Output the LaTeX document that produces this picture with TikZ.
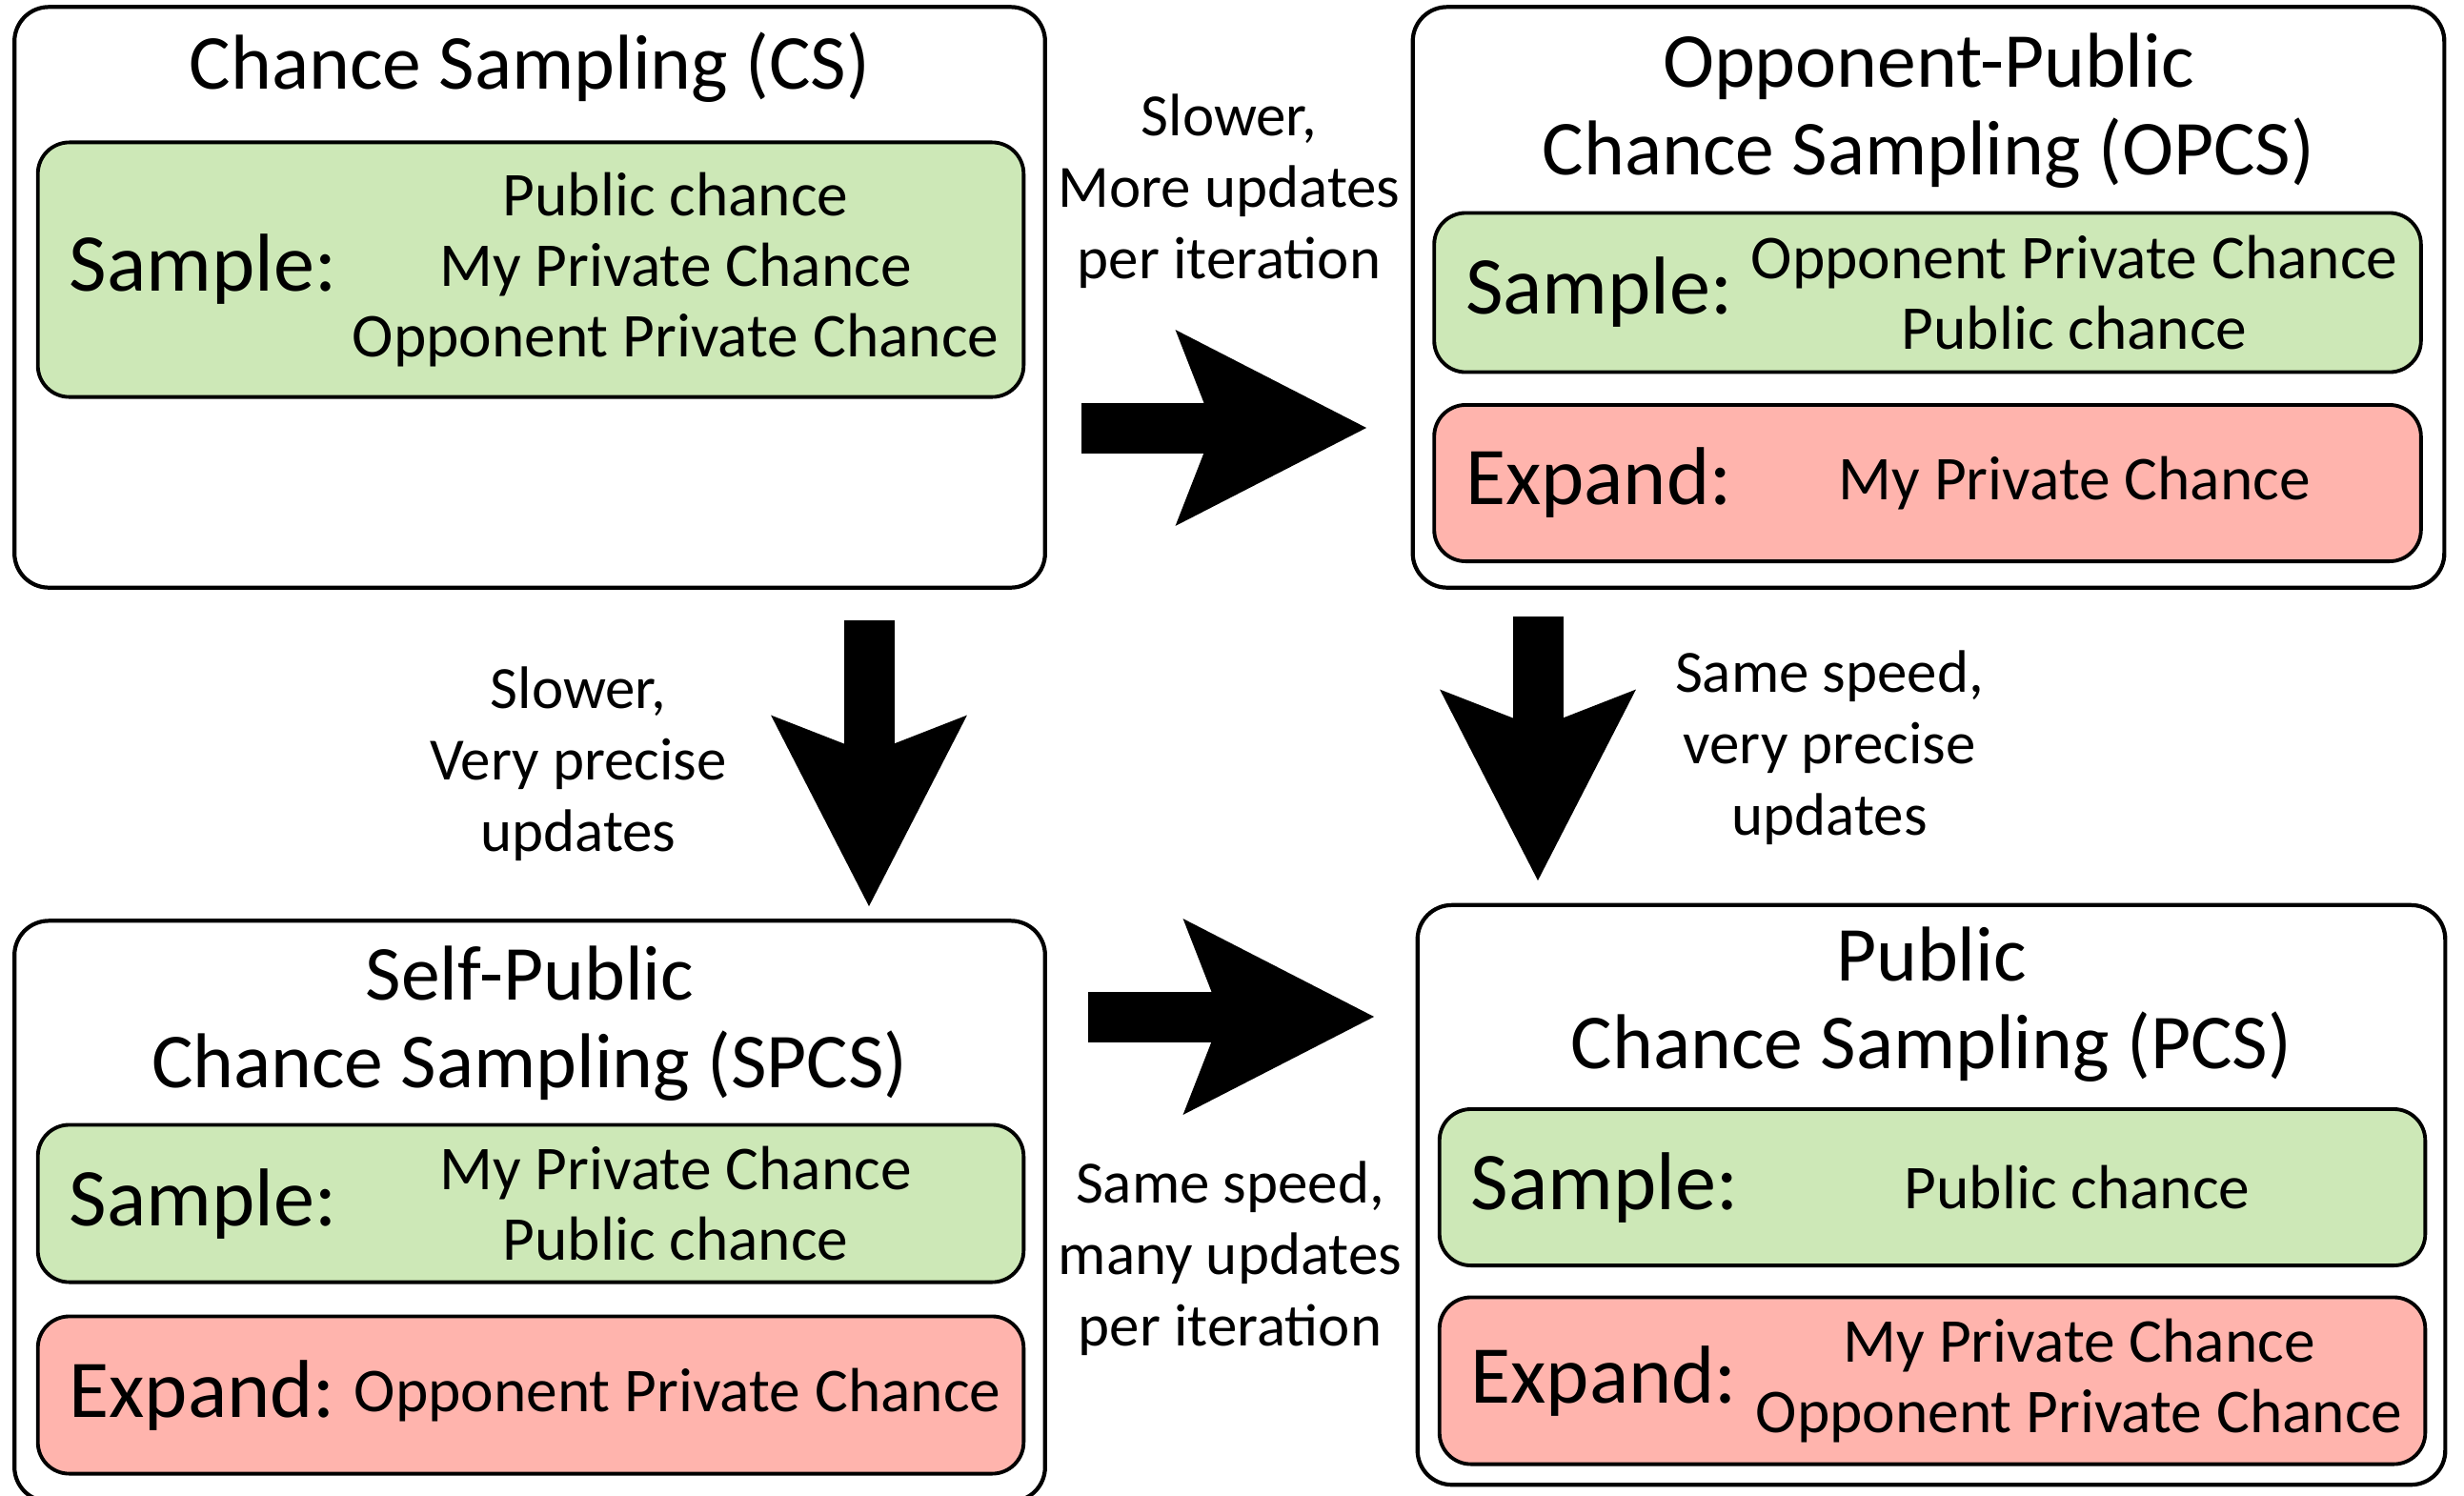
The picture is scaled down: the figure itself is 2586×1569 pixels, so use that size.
\documentclass[tikz,border=0pt]{standalone}
\usepackage{fontspec}
\setmainfont{Carlito}
\usetikzlibrary{arrows.meta}
\definecolor{SampleFill}{HTML}{CDE8B7}
\definecolor{ExpandFill}{HTML}{FFB4AD}

\tikzset{
  methodbox/.style 2 args={draw,line width=1.2pt,rounded corners=0.36cm,
    minimum width=#1,minimum height=#2,inner sep=0pt},
  samplebox/.style 2 args={draw,fill=SampleFill,line width=1.1pt,rounded corners=0.33cm,
    minimum width=#1,minimum height=#2,inner sep=0pt},
  expandbox/.style 2 args={samplebox={#1}{#2},fill=ExpandFill},
  title/.style={align=center,font=\fontsize{23.2}{26.2}\selectfont,inner sep=0pt},
  keyword/.style={anchor=west,font=\fontsize{24.5}{28}\selectfont,inner sep=0pt},
  items/.style={align=center,font=\fontsize{18.6}{21}\selectfont,inner sep=0pt},
  note/.style={align=center,font=\fontsize{17.9}{21.3}\selectfont,inner sep=0pt},
  bigarrow/.style={line width=0.53cm,
    -{Stealth[length=1.97cm,width=1.97cm,inset=0.36cm]}}
}

\begin{document}
\begin{tikzpicture}[x=0.01cm,y=-0.01cm,line join=round]
\useasboundingbox (0,0) rectangle (2586,1569);

% ---- chance sampling ----
\node[methodbox={10.81cm}{6.09cm}] (cs) at (556,312) {};
\node[title] (csT) at (556,71) {Chance Sampling (CS)};
\node[samplebox={10.34cm}{2.67cm}] (csS) at (557,283) {};
\node[keyword] (csSk) at ([xshift=0.34cm]csS.west) {Sample:};
\node[items] (csSi) at ([xshift=1.52cm]csS.center)
  {Public chance\\My Private Chance\\Opponent Private Chance};

% ---- opponent-public chance sampling ----
\node[methodbox={10.82cm}{6.09cm}] (opcs) at (2024,312) {};
\node[title] (opcsT) at (2024,116) {Opponent-Public\\Chance Sampling (OPCS)};
\node[samplebox={10.35cm}{1.67cm}] (opcsS) at (2023,307) {};
\node[keyword] (opcsSk) at ([xshift=0.34cm]opcsS.west) {Sample:};
\node[items] (opcsSi) at ([xshift=1.54cm]opcsS.center)
  {Opponent Private Chance\\Public chance};
\node[expandbox={10.35cm}{1.64cm}] (opcsE) at (2023,507) {};
\node[keyword] (opcsEk) at ([xshift=0.34cm]opcsE.west) {Expand:};
\node[items] (opcsEi) at ([xshift=1.54cm]opcsE.center) {My Private Chance};

% ---- self-public chance sampling ----
\node[methodbox={10.81cm}{6.09cm}] (spcs) at (556,1271) {};
\node[title] (spcsT) at (556,1074) {Self-Public\\Chance Sampling (SPCS)};
\node[samplebox={10.34cm}{1.65cm}] (spcsS) at (557,1263) {};
\node[keyword] (spcsSk) at ([xshift=0.34cm]spcsS.west) {Sample:};
\node[items] (spcsSi) at ([xshift=1.52cm]spcsS.center)
  {My Private Chance\\Public chance};
\node[expandbox={10.34cm}{1.65cm}] (spcsE) at (557,1464) {};
\node[keyword] (spcsEk) at ([xshift=0.34cm]spcsE.west) {Expand:};
\node[items] (spcsEi) at ([xshift=1.54cm]spcsE.center) {Opponent Private Chance};

% ---- public chance sampling ----
\node[methodbox={10.78cm}{6.08cm}] (pcs) at (2027,1254) {};
\node[title] (pcsT) at (2027,1054) {Public\\Chance Sampling (PCS)};
\node[samplebox={10.34cm}{1.64cm}] (pcsS) at (2028,1246) {};
\node[keyword] (pcsSk) at ([xshift=0.34cm]pcsS.west) {Sample:};
\node[items] (pcsSi) at ([xshift=1.52cm]pcsS.center) {Public chance};
\node[expandbox={10.34cm}{1.75cm}] (pcsE) at (2028,1449) {};
\node[keyword] (pcsEk) at ([xshift=0.34cm]pcsE.west) {Expand:};
\node[items] (pcsEi) at ([xshift=1.54cm]pcsE.center)
  {My Private Chance\\Opponent Private Chance};

% ---- block arrows between the methods ----
\coordinate (csOut) at (1135,449);   \coordinate (opcsIn) at (1435,449);
\coordinate (csDown) at (912,651);   \coordinate (spcsIn) at (912,952);
\coordinate (opcsDown) at (1614,647); \coordinate (pcsTop) at (1614,925);
\coordinate (spcsOut) at (1142,1067); \coordinate (pcsIn) at (1443,1067);
\draw[bigarrow] (csOut) -- (opcsIn);
\draw[bigarrow] (csDown) -- (spcsIn);
\draw[bigarrow] (opcsDown) -- (pcsTop);
\draw[bigarrow] (spcsOut) -- (pcsIn);

% ---- notes on the arrows ----
\node[note] (n1) at (1290,201) {Slower,\\More updates\\per iteration};
\node[note] (n2) at (607,802) {Slower,\\Very precise\\updates};
\node[note] (n3) at (1920,785) {Same speed,\\very precise\\updates};
\node[note] (n4) at (1291,1321) {Same speed,\\many updates\\per iteration};
\end{tikzpicture}
\end{document}
